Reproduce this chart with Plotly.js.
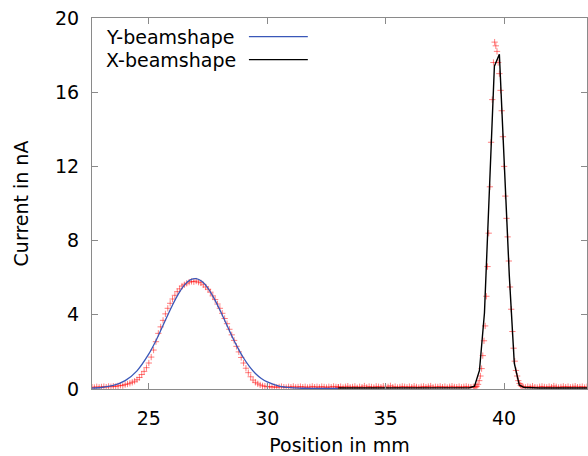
<!DOCTYPE html>
<html>
<head>
<meta charset="utf-8">
<script src="https://cdn.plot.ly/plotly-3.0.1.min.js"></script>
<style>html,body{margin:0;padding:0;background:#fff;}#chart{width:588px;height:456px;}</style>
</head>
<body>
<div id="chart"></div>
<script>
// Y scan measurement (red crosses)
const yScanPos = [22.6,22.7,22.8,22.9,23.0,23.1,23.2,23.3,23.4,23.5,
  23.6,23.7,23.8,23.9,24.0,24.1,24.2,24.3,24.4,24.5,
  24.6,24.7,24.8,24.9,25.0,25.1,25.2,25.3,25.4,25.5,
  25.6,25.7,25.8,25.9,26.0,26.1,26.2,26.3,26.4,26.5,
  26.6,26.7,26.8,26.9,27.0,27.1,27.2,27.3,27.4,27.5,
  27.6,27.7,27.8,27.9,28.0,28.1,28.2,28.3,28.4,28.5,
  28.6,28.7,28.8,28.9,29.0,29.1,29.2,29.3,29.4,29.5,
  29.6,29.7,29.8,29.9,30.0,30.1,30.2,30.3,30.4,30.5,
  30.6,30.7,30.8,30.9,31.0,31.1,31.2,31.3,31.4,31.5,
  31.6,31.7,31.8,31.9,32.0,32.1,32.2,32.3,32.4,32.5,
  32.6,32.7,32.8,32.9,33.0];
const yScanCurrent = [0.10,0.08,0.12,0.09,0.11,0.13,0.10,0.14,0.12,0.15,
  0.13,0.17,0.20,0.18,0.24,0.27,0.31,0.36,0.42,0.50,
  0.62,0.78,0.95,1.15,1.40,1.72,2.10,2.55,3.00,3.35,
  3.70,4.05,4.35,4.62,4.85,5.05,5.25,5.40,5.55,5.62,
  5.70,5.76,5.80,5.78,5.82,5.76,5.72,5.62,5.50,5.38,
  5.22,5.02,4.82,4.58,4.35,4.08,3.80,3.52,3.22,2.92,
  2.62,2.30,2.00,1.70,1.40,1.12,0.88,0.66,0.48,0.36,
  0.28,0.22,0.17,0.15,0.12,0.13,0.10,0.12,0.09,0.11,
  0.13,0.10,0.08,0.12,0.10,0.14,0.09,0.11,0.13,0.10,
  0.12,0.08,0.11,0.14,0.10,0.12,0.09,0.13,0.11,0.08,
  0.12,0.10,0.14,0.11,0.09];

// X scan measurement (red crosses)
const xScanPos = [33.0,33.1,33.2,33.3,33.4,33.5,33.6,33.7,33.8,33.9,
  34.0,34.1,34.2,34.3,34.4,34.5,34.6,34.7,34.8,34.9,
  35.0,35.1,35.2,35.3,35.4,35.5,35.6,35.7,35.8,35.9,
  36.0,36.1,36.2,36.3,36.4,36.5,36.6,36.7,36.8,36.9,
  37.0,37.1,37.2,37.3,37.4,37.5,37.6,37.7,37.8,37.9,
  38.0,38.1,38.2,38.3,38.4,38.5,38.6,38.7,
  38.75,38.80,38.85,38.90,38.95,39.00,39.05,39.10,39.15,39.20,
  39.25,39.30,39.35,39.40,39.45,39.50,39.55,39.60,39.65,39.70,
  39.75,39.80,39.85,39.90,39.95,40.00,40.05,40.10,40.15,40.20,
  40.25,40.30,40.35,40.40,40.45,40.50,40.55,40.60,40.65,40.70,40.75,
  40.8,40.9,41.0,41.1,41.2,41.3,41.4,41.5,41.6,41.7,
  41.8,41.9,42.0,42.1,42.2,42.3,42.4,42.5,42.6,42.7,
  42.8,42.9,43.0,43.1,43.2,43.3,43.4,43.5];
const xScanCurrent = [0.10,0.13,0.08,0.12,0.15,0.09,0.11,0.14,0.07,0.12,
  0.10,0.16,0.09,0.13,0.11,0.08,0.14,0.12,0.10,0.15,
  0.09,0.12,0.17,0.10,0.13,0.08,0.11,0.14,0.12,0.09,
  0.13,0.10,0.15,0.11,0.08,0.12,0.14,0.10,0.13,0.16,
  0.09,0.12,0.11,0.14,0.10,0.13,0.08,0.12,0.15,0.11,
  0.10,0.13,0.09,0.12,0.14,0.11,0.10,0.12,
  0.10,0.12,0.15,0.25,0.45,0.70,1.10,1.80,2.60,3.40,
  5.00,6.60,8.40,10.90,13.30,15.60,17.60,18.70,18.50,18.20,
  17.60,17.00,16.10,15.00,13.60,12.00,10.40,9.20,8.20,6.90,
  5.50,4.30,3.10,2.20,1.50,1.00,0.70,0.45,0.30,0.20,0.14,
  0.12,0.09,0.13,0.11,0.15,0.10,0.08,0.12,0.14,0.11,
  0.09,0.13,0.10,0.16,0.12,0.08,0.11,0.14,0.10,0.13,
  0.09,0.12,0.15,0.10,0.11,0.13,0.08,0.12];

// Fitted Y beam shape (blue line)
const yFitPos = [22.6,23.0,23.5,24.0,24.5,25.0,25.25,25.5,25.75,26.0,26.25,26.5,26.75,27.0,
  27.25,27.5,27.75,28.0,28.25,28.5,28.75,29.0,29.25,29.5,29.75,30.0,30.5,31.0,31.5,32.0,33.0];
const yFitCurrent = [0.05,0.08,0.19,0.45,0.98,1.89,2.48,3.15,3.85,4.53,5.13,5.60,5.88,5.95,
  5.79,5.43,4.90,4.26,3.57,2.87,2.23,1.67,1.21,0.84,0.57,0.38,0.16,0.07,0.04,0.03,0.03];

// Fitted X beam shape (black line)
const xFitPos = [33.0,34.0,35.0,36.0,37.0,38.0,38.54,38.75,38.96,39.17,39.38,39.59,39.80,
  40.01,40.22,40.43,40.64,40.85,41.5,42.5,43.5];
const xFitCurrent = [0.05,0.05,0.05,0.05,0.05,0.05,0.07,0.15,1.00,4.10,10.90,17.40,18.05,
  12.30,6.10,1.40,0.22,0.08,0.05,0.05,0.05];

const legendLabels = ['Y-beamshape', 'X-beamshape'];
const blue = '#3a57b8';
const font = 'DejaVu Sans, sans-serif';
const redMarker = {symbol: 'cross-thin', size: 4.5, line: {width: 1, color: 'rgba(255,0,0,0.5)'}};

const traces = [
  {x: yScanPos, y: yScanCurrent, type: 'scatter', mode: 'markers', showlegend: false, marker: redMarker},
  {x: xScanPos, y: xScanCurrent, type: 'scatter', mode: 'markers', showlegend: false, marker: redMarker},
  {x: yFitPos, y: yFitCurrent, type: 'scatter', mode: 'lines', name: legendLabels[0],
   line: {color: blue, width: 1.3, shape: 'spline', smoothing: 0.8}, showlegend: false},
  {x: xFitPos, y: xFitCurrent, type: 'scatter', mode: 'lines', name: legendLabels[1],
   line: {color: '#000000', width: 1.4}, showlegend: false}
];

const axisCommon = {
  showline: true, mirror: 'ticks', linecolor: '#8a8a8a', linewidth: 1,
  ticks: 'inside', ticklen: 6, tickcolor: '#8a8a8a', tickwidth: 1,
  showgrid: false, zeroline: false,
  tickfont: {family: font, size: 19, color: '#000'}
};

const layout = {
  width: 588, height: 456,
  margin: {l: 92, r: 1, t: 18, b: 67},
  paper_bgcolor: '#fff', plot_bgcolor: '#fff',
  font: {family: font, size: 19, color: '#000'},
  xaxis: Object.assign({}, axisCommon, {
    range: [22.6, 43.5], tickmode: 'linear', tick0: 25, dtick: 5,
    ticklabelstandoff: 12,
    title: {text: 'Position in mm', font: {family: font, size: 19, color: '#000'}, standoff: 13}
  }),
  yaxis: Object.assign({}, axisCommon, {
    range: [0, 20], tickmode: 'linear', tick0: 0, dtick: 4,
    ticklabelstandoff: 8,
    title: {text: 'Current in nA', font: {family: font, size: 19, color: '#000'}, standoff: 21}
  }),
  showlegend: false,
  annotations: [
    {xref: 'paper', yref: 'paper', x: 0.024, y: 0.950, xanchor: 'left', yanchor: 'middle',
     text: legendLabels[0], showarrow: false, font: {family: font, size: 19, color: '#000'}},
    {xref: 'paper', yref: 'paper', x: 0.024, y: 0.888, xanchor: 'left', yanchor: 'middle',
     text: legendLabels[1], showarrow: false, font: {family: font, size: 19, color: '#000'}}
  ],
  shapes: [
    {type: 'line', xref: 'paper', yref: 'paper', x0: 0.317, x1: 0.436, y0: 0.950, y1: 0.950,
     line: {color: blue, width: 1.3}},
    {type: 'line', xref: 'paper', yref: 'paper', x0: 0.317, x1: 0.436, y0: 0.888, y1: 0.888,
     line: {color: '#000', width: 1.3}}
  ]
};

Plotly.newPlot('chart', traces, layout, {staticPlot: true, displayModeBar: false});
</script>
</body>
</html>
